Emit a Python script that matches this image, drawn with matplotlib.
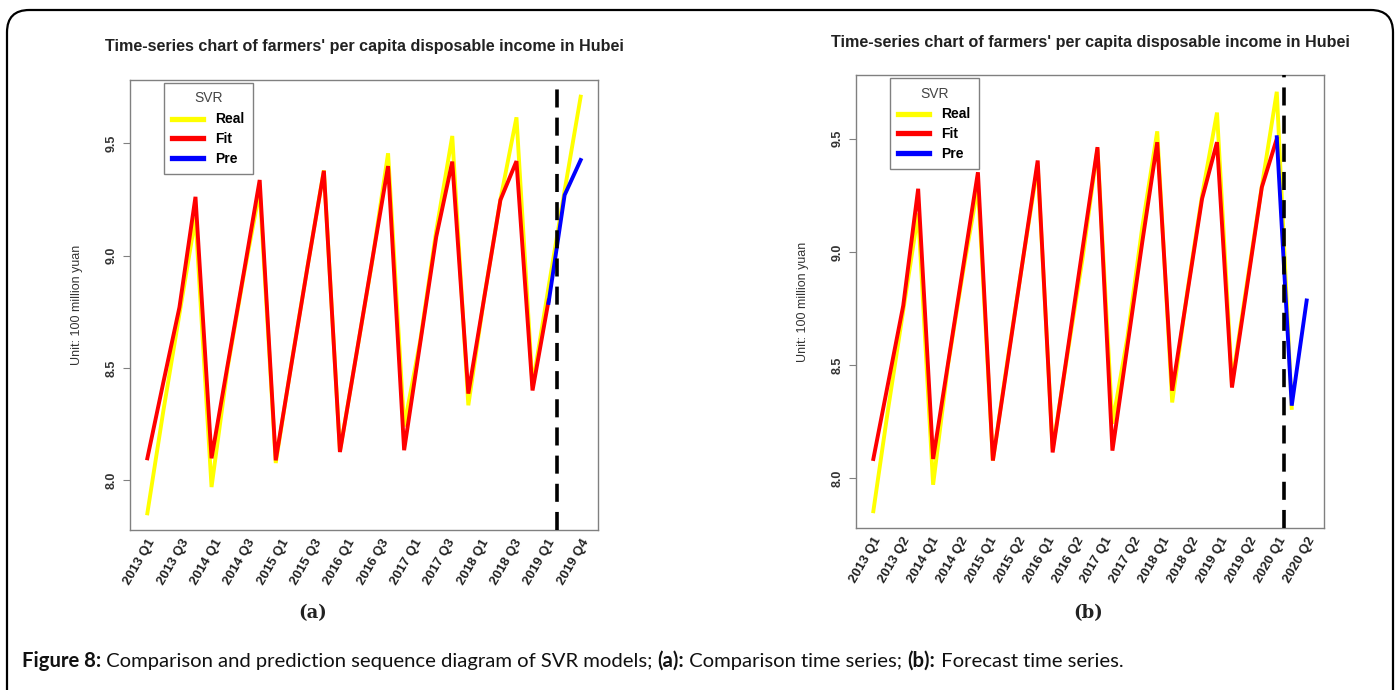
import matplotlib
matplotlib.use("Agg")
import matplotlib.pyplot as plt
from matplotlib.lines import Line2D
from matplotlib.patches import FancyBboxPatch
import numpy as np

# log of quarterly cumulative per capita disposable income
real = [7.853, 8.31, 8.74, 9.17,
        7.970, 8.50, 8.91, 9.29,
        8.077, 8.53, 8.96, 9.38,
        8.130, 8.55, 8.97, 9.456,
        8.240, 8.62, 9.11, 9.533,
        8.334, 8.82, 9.25, 9.616,
        8.420, 8.86, 9.29, 9.708,
        8.310]

fit_a = [8.098, 8.437, 8.770, 9.262,
         8.098, 8.512, 8.920, 9.337,
         8.089, 8.526, 8.958, 9.378,
         8.126, 8.550, 8.975, 9.399,
         8.134, 8.610, 9.084, 9.419,
         8.386, 8.817, 9.248, 9.421,
         8.400, 8.800]
pre_a = [8.790, 9.270, 9.426]

fit_b = [8.084, 8.423, 8.762, 9.279,
         8.084, 8.507, 8.929, 9.352,
         8.077, 8.519, 8.962, 9.404,
         8.113, 8.563, 9.013, 9.463,
         8.121, 8.582, 9.044, 9.485,
         8.386, 8.810, 9.235, 9.485,
         8.400, 8.843, 9.286, 9.500]
pre_b = [9.507, 8.320, 8.785]

labels_a = ["2013 Q1", "2013 Q3", "2014 Q1", "2014 Q3", "2015 Q1", "2015 Q3", "2016 Q1",
            "2016 Q3", "2017 Q1", "2017 Q3", "2018 Q1", "2018 Q3", "2019 Q1", "2019 Q4"]
labels_b = ["2013 Q1", "2013 Q2", "2014 Q1", "2014 Q2", "2015 Q1", "2015 Q2", "2016 Q1", "2016 Q2",
            "2017 Q1", "2017 Q2", "2018 Q1", "2018 Q2", "2019 Q1", "2019 Q2", "2020 Q1", "2020 Q2"]

TITLE = "Time-series chart of farmers' per capita disposable income in Hubei"
W, H = 1395, 690

fig = plt.figure(figsize=(W / 100, H / 100), dpi=100)
fig.patch.set_facecolor("white")


def panel(rect, real_vals, fit, pre, n_total, vline_x, labels, title_y):
    ax = fig.add_axes(rect)
    x_real = np.arange(len(real_vals))
    x_fit = np.arange(len(fit))
    x_pre = np.arange(len(fit) - 1, len(fit) - 1 + len(pre))
    lw = 2.8
    ax.plot(x_real, real_vals, color="#ffff00", lw=lw, solid_joinstyle="miter", zorder=2)
    ax.plot(x_fit, fit, color="#ff0000", lw=lw, solid_joinstyle="miter", zorder=3)
    ax.plot(x_pre, pre, color="#0000ff", lw=lw, solid_joinstyle="miter", zorder=4)
    ax.axvline(vline_x, color="black", lw=2.6, ls=(0, (5, 2.8)), zorder=5)

    span = n_total - 1
    ax.set_xlim(-0.04 * span, span * 1.04)
    vals = list(real_vals) + list(fit) + list(pre)
    lo, hi = min(vals), max(vals)
    ax.set_ylim(lo - 0.04 * (hi - lo), hi + 0.04 * (hi - lo))

    for s in ax.spines.values():
        s.set_color("#808080")
        s.set_linewidth(1.0)

    ax.set_yticks([8.0, 8.5, 9.0, 9.5])
    ax.set_yticklabels(["8.0", "8.5", "9.0", "9.5"], rotation=90, va="center",
                       fontsize=9, fontweight="bold", color="#333333", family="Liberation Sans")
    ax.tick_params(axis="y", length=5, width=0.8, color="#808080", pad=4)

    pos = np.linspace(0, span, len(labels))
    ax.set_xticks(pos)
    ax.set_xticklabels(labels, rotation=60, ha="right", rotation_mode="anchor",
                       fontsize=9.5, fontweight="bold", color="#222222", family="Liberation Sans")
    ax.tick_params(axis="x", length=0, pad=5)
    ax.set_xticks(pos[1::2], minor=True)
    ax.tick_params(axis="x", which="minor", length=3, width=0.8, color="#808080")

    ax.set_ylabel("Unit: 100 million yuan", fontsize=9, color="#333333",
                  family="Liberation Sans", labelpad=16)

    handles = [Line2D([], [], color="#ffff00", lw=3.8),
               Line2D([], [], color="#ff0000", lw=3.8),
               Line2D([], [], color="#0000ff", lw=3.8)]
    leg = ax.legend(handles, ["Real", "Fit", "Pre"], title="SVR", loc="upper left",
                    bbox_to_anchor=(0.072, 0.993), frameon=True, fancybox=False,
                    edgecolor="#808080", framealpha=1, handlelength=2.2, handletextpad=0.9,
                    borderpad=0.6, labelspacing=0.42, borderaxespad=0,
                    prop={"family": "Liberation Sans", "weight": "bold", "size": 10})
    leg.get_title().set_fontsize(10)
    leg.get_title().set_family("Liberation Sans")
    leg.get_title().set_color("#444444")
    leg._legend_box.sep = 5
    leg.get_frame().set_linewidth(1.0)
    leg.set_zorder(10)

    cx = rect[0] + rect[2] / 2
    fig.text(cx, 1 - title_y / H, TITLE, ha="center", va="center", fontsize=11.6,
             fontweight="bold", color="#222222", family="Liberation Sans")
    return ax


# left: box x 130..598, y 80..530 ; right: box x 856..1324, y 75..528
panel([130 / W, 1 - 530 / H, 468 / W, 450 / H], real[:28], fit_a, pre_a, 28, 25.5, labels_a, 46)
panel([856 / W, 1 - 528 / H, 468 / W, 453 / H], real[:29], fit_b, pre_b, 30, 27.45, labels_b, 42)

fig.text(313 / W, 1 - 613 / H, "(a)", ha="center", va="center", fontsize=13,
         fontweight="bold", family="DejaVu Serif", color="#222222")
fig.text(1088 / W, 1 - 613 / H, "(b)", ha="center", va="center", fontsize=13,
         fontweight="bold", family="DejaVu Serif", color="#222222")

# caption with bold pieces, sized to span the same width as the reference caption
pieces = [("Figure 8:", "bold"), (" Comparison and prediction sequence diagram of SVR models; ", "normal"),
          ("(a):", "bold"), (" Comparison time series; ", "normal"),
          ("(b):", "bold"), (" Forecast time series.", "normal")]
renderer = fig.canvas.get_renderer()
probe = 12.0
total = 0
for txt, weight in pieces:
    t = fig.text(0, 0, txt, fontsize=probe, fontweight=weight, family="Lato")
    total += t.get_window_extent(renderer).width
    t.remove()
size = probe * 1095 / total
x = 22
for txt, weight in pieces:
    t = fig.text(x / W, 1 - 667 / H, txt, ha="left", va="baseline", fontsize=size,
                 fontweight=weight, family="Lato", color="#111111")
    x += t.get_window_extent(renderer).width

frame = FancyBboxPatch((7 / W, -0.05), (1393 - 7) / W, (H - 10) / H + 0.05,
                       boxstyle="round,pad=0,rounding_size=0.016", transform=fig.transFigure,
                       fill=False, edgecolor="black", lw=1.6, mutation_aspect=W / H)
fig.patches.append(frame)

fig.savefig("out.png", dpi=100)
